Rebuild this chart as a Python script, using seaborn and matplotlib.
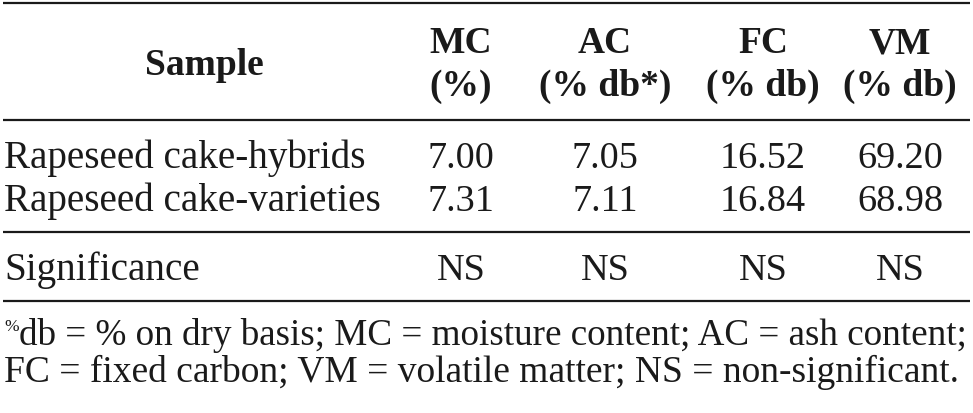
import matplotlib
matplotlib.use("Agg")
import matplotlib.pyplot as plt
import seaborn as sns

# ---- data ----
header_sample = "Sample"
col_names = ["MC", "AC", "FC", "VM"]
col_units = ["(%)", "(% db*)", "(% db)", "(% db)"]
samples = ["Rapeseed cake-hybrids", "Rapeseed cake-varieties"]
mc_values = [7.00, 7.31]
ac_values = [7.05, 7.11]
fc_values = [16.52, 16.84]
vm_values = [69.20, 68.98]
significance_label = "Significance"
significance = ["NS", "NS", "NS", "NS"]
footnote_mark = "%"
footnote_line1 = "db = % on dry basis; MC = moisture content; AC = ash content;"
footnote_line2 = "FC = fixed carbon; VM = volatile matter; NS = non-significant."

sns.set_theme(style="white")
plt.rcParams['font.family'] = ['Liberation Serif', 'DejaVu Serif']

W, H = 973, 414
fig = plt.figure(figsize=(W / 100, H / 100), dpi=100)
ax = fig.add_axes([0, 0, 1, 1])
ax.set_xlim(0, W)
ax.set_ylim(H, 0)
ax.axis("off")

ink = "#1a1a1a"
label_fs = 28.2
value_fs = 27.5
head_fs = 27
foot1_fs = 26.75
foot2_fs = 27.0

col_x = [461, 605, 763, 900]
left_x = 4

# rules
for y in [4, 121, 233, 302]:
    ax.hlines(y, 3, 970, color=ink, lw=1.6)

# header
ax.text(204, 75, header_sample, ha="center", va="baseline", fontsize=head_fs,
        fontweight="bold", color=ink)
for x, n, u in zip(col_x, col_names, col_units):
    ax.text(x, 53, n, ha="center", va="baseline", fontsize=head_fs,
            fontweight="bold", color=ink)
    ax.text(x, 96, u, ha="center", va="baseline", fontsize=head_fs,
            fontweight="bold", color=ink)

# body rows
row_y = [168, 211]
cols = [mc_values, ac_values, fc_values, vm_values]
for i, (s, y) in enumerate(zip(samples, row_y)):
    ax.text(left_x, y, s, ha="left", va="baseline", fontsize=label_fs, color=ink)
    for x, vals in zip(col_x, cols):
        ax.text(x, y, f"{vals[i]:.2f}", ha="center", va="baseline",
                fontsize=value_fs, color=ink)

# significance row
ax.text(left_x, 280, significance_label, ha="left", va="baseline",
        fontsize=label_fs, color=ink)
for x, v in zip(col_x, significance):
    ax.text(x, 280, v, ha="center", va="baseline", fontsize=value_fs, color=ink)

# footnote
ax.text(4, 331, footnote_mark, ha="left", va="baseline", fontsize=12.5, color=ink)
ax.text(19, 345, footnote_line1, ha="left", va="baseline", fontsize=foot1_fs, color=ink)
ax.text(4, 382, footnote_line2, ha="left", va="baseline", fontsize=foot2_fs, color=ink)

fig.savefig("out.png", dpi=100, facecolor="white")
